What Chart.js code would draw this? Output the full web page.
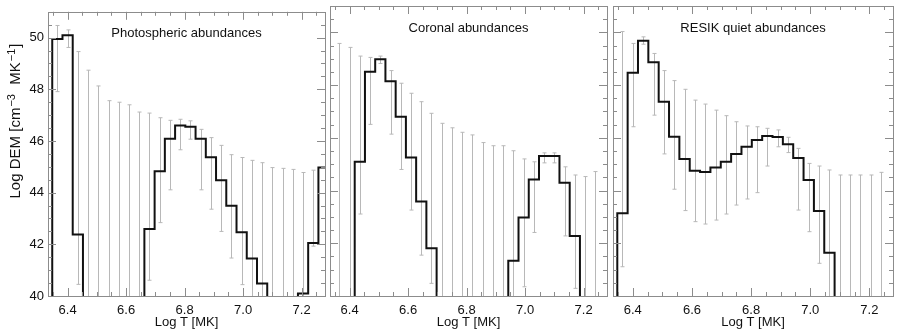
<!DOCTYPE html>
<html>
<head>
<meta charset="utf-8">
<script src="https://cdn.jsdelivr.net/npm/chart.js@4.4.1/dist/chart.umd.min.js"></script>
<style>
  body { margin: 0; background: #fff; }
  #wrap { position: relative; width: 899px; height: 333px; }
  .panel { position: absolute; top: 0; height: 333px; }
</style>
</head>
<body>
<div id="wrap">
  <div class="panel" style="left:0;width:330px"><canvas id="c1"></canvas></div>
  <div class="panel" style="left:325px;width:287px"><canvas id="c2"></canvas></div>
  <div class="panel" style="left:607px;width:292px"><canvas id="c3"></canvas></div>
</div>
<script>
// bin centres, Log T [MK]
const logT = [6.365, 6.400, 6.435, 6.470, 6.505, 6.540, 6.575, 6.610, 6.645, 6.680,
              6.715, 6.750, 6.785, 6.820, 6.855, 6.890, 6.925, 6.960, 6.995, 7.030,
              7.065, 7.100, 7.135, 7.170, 7.205, 7.240, 7.275];
const binWidth = 0.035;
const BELOW = 30; // off the bottom of the plot

const xTicks = [6.4, 6.6, 6.8, 7.0, 7.2];
const yTicks = [40, 42, 44, 46, 48, 50];

// Photospheric abundances
const photoDem = [49.95, 50.09, 42.38, BELOW, BELOW, BELOW, BELOW, BELOW, BELOW, 42.59,
                  44.83, 46.09, 46.60, 46.55, 46.09, 45.37, 44.48, 43.49, 42.47, 41.45,
                  40.48, BELOW, BELOW, BELOW, 40.10, 42.05, 44.97];
const photoHi = [50.47, 50.30, 49.46, 48.74, 48.13, 47.56, 47.50, 47.40, 47.12, 47.08,
                 46.90, 46.80, 46.84, 46.78, 46.45, 46.13, 45.83, 45.47, 45.36, 45.25,
                 45.16, 44.97, 44.94, 44.90, 44.78, 44.87, null];
const photoLo = [47.91, 49.62, 40.45, BELOW, BELOW, BELOW, BELOW, BELOW, BELOW, 40.61,
                 42.84, 44.11, 45.66, 46.07, 44.11, 43.36, 42.50, 41.47, 40.44, BELOW,
                 BELOW, BELOW, BELOW, BELOW, BELOW, 41.93, null];

// Coronal abundances
const coronaDem = [BELOW, BELOW, 45.09, 48.51, 48.98, 48.15, 46.80, 45.25, 43.58, 41.81,
                   BELOW, BELOW, BELOW, BELOW, BELOW, BELOW, BELOW, 41.34, 42.98, 44.42,
                   45.31, 45.31, 44.30, 42.28, BELOW, BELOW, BELOW];
const coronaHi = [49.58, 49.43, 49.10, 49.05, 49.10, 48.55, 48.07, 47.69, 47.37, 46.93,
                  46.55, 46.38, 46.21, 46.11, 45.82, 45.70, 45.70, 45.51, 45.20, 45.09,
                  45.43, 45.43, 44.90, 44.59, 44.53, 44.72, null];
const coronaLo = [BELOW, BELOW, 43.11, 46.51, 48.82, 46.14, 44.80, 43.26, 41.55, 40.48,
                  BELOW, BELOW, BELOW, BELOW, BELOW, BELOW, BELOW, BELOW, 40.35, 42.41,
                  45.05, 45.05, 42.28, 40.29, BELOW, BELOW, null];

// RESIK quiet abundances
const resikDem = [43.14, 48.47, 49.68, 48.87, 47.37, 46.04, 45.20, 44.75, 44.70, 44.87,
                  45.09, 45.39, 45.66, 45.92, 46.07, 46.03, 45.76, 45.23, 44.40, 43.22,
                  41.64, BELOW, BELOW, BELOW, BELOW, BELOW, BELOW];
const resikHi = [50.03, 49.58, 49.83, 49.20, 48.55, 48.17, 47.84, 47.43, 47.28, 47.05,
                 46.84, 46.61, 46.45, 46.42, 46.36, 46.30, 46.02, 45.60, 45.03, 44.93,
                 44.78, 44.59, 44.59, 44.59, 44.59, 44.69, null];
const resikLo = [41.11, 46.42, 49.55, 46.86, 45.39, 44.05, 43.24, 42.82, 42.73, 42.88,
                 43.11, 43.45, 43.68, 43.92, 44.93, 45.66, 45.44, 43.26, 42.44, 41.24,
                 BELOW, BELOW, BELOW, BELOW, BELOW, BELOW, null];

const FONT = '"Liberation Sans", Arial, sans-serif';
Chart.defaults.font.family = FONT;
Chart.defaults.font.size = 13;
Chart.defaults.color = '#111';

const FRAME = '#8c8c8c';

function stepPoints(vals) {
  const half = binWidth / 2;
  const pts = [{x: logT[0] - half, y: BELOW}];
  vals.forEach((v, i) => {
    pts.push({x: logT[i] - half, y: v});
    pts.push({x: logT[i] + half, y: v});
  });
  pts.push({x: logT[logT.length - 1] + half, y: BELOW});
  return pts;
}

// y title with raised exponents, drawn rotated along the left edge
function drawYTitle(ctx, cx, cy) {
  const parts = [['Log DEM [cm', false], ['\u22123', true], ['  MK', false], ['\u22121', true], [']', false]];
  const big = '15px ' + FONT, small = '11px ' + FONT;
  let total = 0;
  parts.forEach(([t, sup]) => { ctx.font = sup ? small : big; total += ctx.measureText(t).width + (sup ? 2 : 0); });
  ctx.save();
  ctx.translate(cx, cy);
  ctx.rotate(-Math.PI / 2);
  ctx.textAlign = 'left';
  ctx.textBaseline = 'alphabetic';
  let x = -total / 2;
  parts.forEach(([t, sup]) => {
    ctx.font = sup ? small : big;
    if (sup) x += 1;
    ctx.fillText(t, x, sup ? 0 : 5);
    x += ctx.measureText(t).width + (sup ? 1 : 0);
  });
  ctx.restore();
}

function makePanel(id, dem, hi, lo, title, pad, showY) {
  const errorBars = {
    id: 'errorBars',
    beforeDatasetsDraw(chart) {
      const {ctx, chartArea: a, scales: {x, y}} = chart;
      ctx.save();
      ctx.beginPath();
      ctx.rect(a.left, a.top, a.width, a.height);
      ctx.clip();
      ctx.strokeStyle = '#b8b8b8';
      ctx.lineWidth = 1;
      hi.forEach((h, i) => {
        const l = lo[i];
        if (h == null || l == null) return;
        const px = Math.round(x.getPixelForValue(logT[i])) + 0.5;
        const y1 = y.getPixelForValue(h), y2 = y.getPixelForValue(l);
        ctx.beginPath();
        ctx.moveTo(px, y1); ctx.lineTo(px, y2);
        ctx.moveTo(px - 2, y1); ctx.lineTo(px + 2, y1);
        ctx.moveTo(px - 2, y2); ctx.lineTo(px + 2, y2);
        ctx.stroke();
      });
      ctx.restore();
    }
  };

  const frame = {
    id: 'frame',
    afterDatasetsDraw(chart) {
      const {ctx, chartArea: a, scales: {x, y}} = chart;
      ctx.save();
      ctx.strokeStyle = FRAME;
      ctx.lineWidth = 1;
      ctx.beginPath();
      // x ticks, every 0.05, major every 0.2
      for (let i = 127; i <= 145; i++) {
        const v = i * 0.05;
        const px = Math.round(x.getPixelForValue(v)) + 0.5;
        const len = (i % 4 === 0) ? 8 : 4;
        ctx.moveTo(px, a.bottom); ctx.lineTo(px, a.bottom - len);
        ctx.moveTo(px, a.top); ctx.lineTo(px, a.top + len);
      }
      // y ticks, every 0.5, major every 2
      for (let i = 80; i <= 102; i++) {
        const v = i * 0.5;
        const py = Math.round(y.getPixelForValue(v)) + 0.5;
        const len = (i % 4 === 0) ? 8 : 4;
        ctx.moveTo(a.left, py); ctx.lineTo(a.left + len, py);
        ctx.moveTo(a.right, py); ctx.lineTo(a.right - len, py);
      }
      ctx.stroke();
      ctx.strokeRect(Math.round(a.left) + 0.5, Math.round(a.top) + 0.5,
                     Math.round(a.width), Math.round(a.height));

      ctx.fillStyle = '#111';
      ctx.font = '13px ' + FONT;
      ctx.textAlign = 'center';
      ctx.textBaseline = 'middle';
      ctx.fillText(title, (a.left + a.right) / 2, a.top + 22);

      if (showY) drawYTitle(ctx, 15, 121);
      ctx.restore();
    }
  };

  return new Chart(document.getElementById(id), {
    type: 'line',
    data: {
      datasets: [{
        data: stepPoints(dem),
        borderColor: '#111',
        borderWidth: 2,
        pointRadius: 0,
        tension: 0,
        fill: false
      }]
    },
    options: {
      responsive: true,
      maintainAspectRatio: false,
      animation: false,
      events: [],
      layout: {padding: pad},
      plugins: {legend: {display: false}, tooltip: {enabled: false}},
      scales: {
        x: {
          type: 'linear',
          min: 6.333,
          max: 7.28,
          afterBuildTicks: s => { s.ticks = xTicks.map(v => ({value: v})); },
          afterFit: s => { s.height = 37; },
          grid: {display: false, drawTicks: false},
          border: {display: false},
          ticks: {padding: 7, callback: v => v.toFixed(1), maxRotation: 0, autoSkip: false},
          title: {display: true, text: 'Log T [MK]', padding: {top: 0, bottom: 3}}
        },
        y: {
          type: 'linear',
          display: showY,
          min: 40,
          max: 51,
          afterBuildTicks: s => { s.ticks = yTicks.map(v => ({value: v})); },
          afterFit: s => { s.width = showY ? 48 : 0; },
          grid: {display: false, drawTicks: false},
          border: {display: false},
          ticks: {padding: 4}
        }
      }
    },
    plugins: [errorBars, frame]
  });
}

makePanel('c1', photoDem, photoHi, photoLo, 'Photospheric abundances',
          {top: 6, right: 5, left: 0, bottom: 0}, true);
makePanel('c2', coronaDem, coronaHi, coronaLo, 'Coronal abundances',
          {top: 6, right: 5, left: 5, bottom: 0}, false);
makePanel('c3', resikDem, resikHi, resikLo, 'RESIK quiet abundances',
          {top: 6, right: 6, left: 6, bottom: 0}, false);
</script>
</body>
</html>
